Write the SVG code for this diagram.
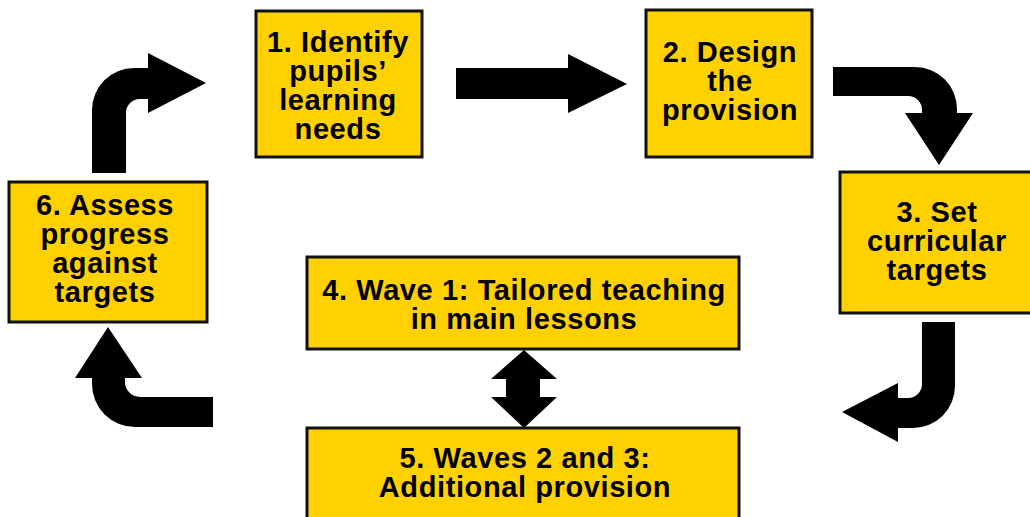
<svg xmlns="http://www.w3.org/2000/svg" width="1030" height="517" viewBox="0 0 1030 517">
<style>
.box{fill:#FFD100;stroke:#111;stroke-width:3}
.t{font-family:"Liberation Sans",Arial,sans-serif;font-weight:bold;font-size:29px;fill:#000;text-anchor:middle;letter-spacing:0.6px}
.arr{fill:#000}
</style>
<rect width="1030" height="517" fill="#fff"/>
<g id="connectors">
<path class="arr" d="M92,173 V110 A42,42 0 0 1 134,68 H148 V53 L206,83 L148,113 V99 H140 A14,14 0 0 0 126,113 V173 Z"/>
<path class="arr" d="M456,68 H568 V54 L627,84 L568,113 V99 H456 Z"/>
<path class="arr" d="M833,67 H915 A42,42 0 0 1 957,109 V113 H973 L939,165 L905,113 H922 V110 A14,14 0 0 0 908,96 H833 Z"/>
<path class="arr" d="M922,322 H955 V386 A42,42 0 0 1 913,428 H898 V442 L842,412 L898,383 V398 H908 A14,14 0 0 0 922,384 Z"/>
<path class="arr" d="M213,397 H140 A15,15 0 0 1 125,382 V378 H142 L108,327 L75,378 H92 V384 A43,43 0 0 0 135,427 H213 Z"/>
<path class="arr" d="M524,350 L557,379 H540 V397 H557 L524,428 L491,397 H506 V379 H491 Z"/>
</g>
<g id="node1">
<rect class="box" x="256" y="11" width="166" height="146"/>
<text class="t" x="338" y="52">1. Identify</text>
<text class="t" x="338" y="81">pupils’</text>
<text class="t" x="338" y="110">learning</text>
<text class="t" x="338" y="139">needs</text>
</g>
<g id="node2">
<rect class="box" x="646" y="10" width="166" height="147"/>
<text class="t" x="730" y="62">2. Design</text>
<text class="t" x="730" y="91">the</text>
<text class="t" x="730" y="120">provision</text>
</g>
<g id="node3">
<rect class="box" x="840" y="172" width="193" height="141"/>
<text class="t" x="937" y="222">3. Set</text>
<text class="t" x="937" y="251">curricular</text>
<text class="t" x="937" y="280">targets</text>
</g>
<g id="node4">
<rect class="box" x="307" y="257" width="432" height="92"/>
<text class="t" x="524" y="300">4. Wave 1: Tailored teaching</text>
<text class="t" x="524" y="329">in main lessons</text>
</g>
<g id="node5">
<rect class="box" x="307" y="428" width="432" height="100"/>
<text class="t" x="525" y="468">5. Waves 2 and 3:</text>
<text class="t" x="525" y="497">Additional provision</text>
</g>
<g id="node6">
<rect class="box" x="9" y="182" width="198" height="140"/>
<text class="t" x="105" y="215">6. Assess</text>
<text class="t" x="105" y="244">progress</text>
<text class="t" x="105" y="273">against</text>
<text class="t" x="105" y="302">targets</text>
</g>
</svg>
